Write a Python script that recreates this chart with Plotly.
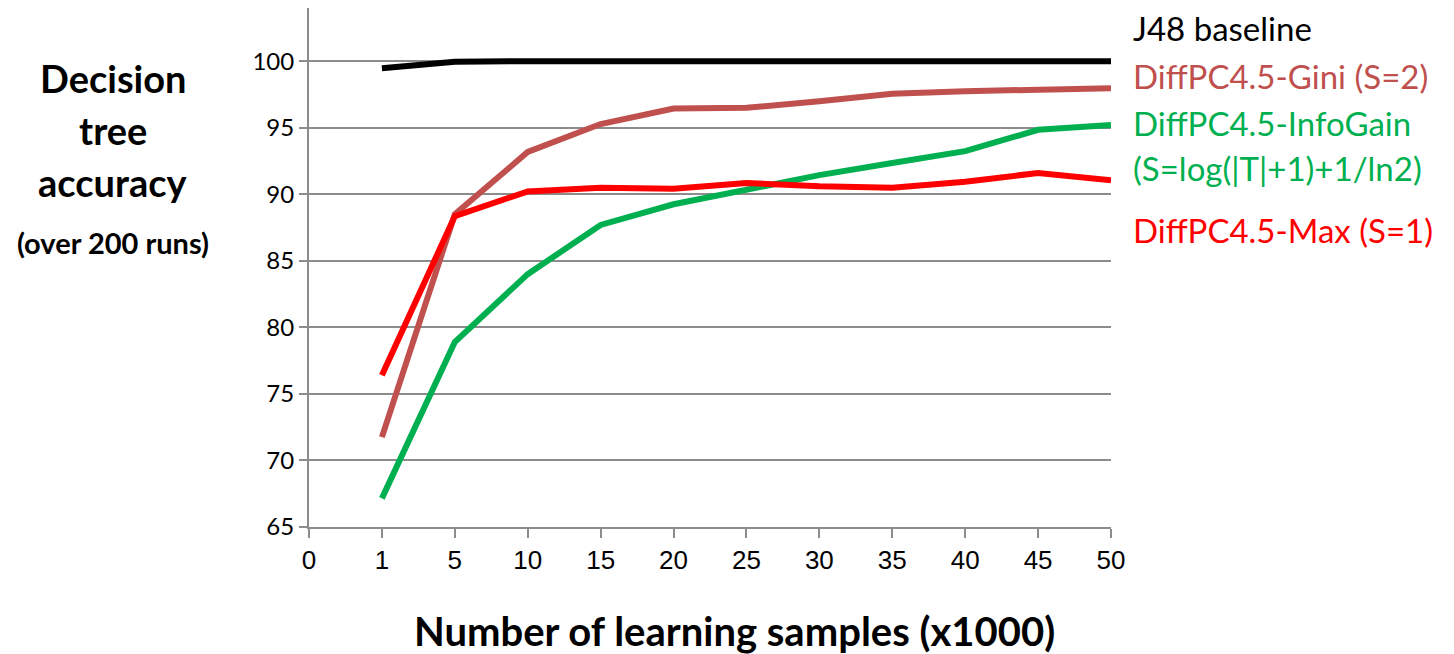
import plotly.graph_objects as go

categories = ["0", "1", "5", "10", "15", "20", "25", "30", "35", "40", "45", "50"]
sample_points = ["1", "5", "10", "15", "20", "25", "30", "35", "40", "45", "50"]

j48_baseline = [99.47, 99.96, 100.0, 100.0, 100.0, 100.0, 100.0, 100.0, 100.0, 100.0, 100.0]
gini = [71.75, 88.5, 93.18, 95.28, 96.45, 96.5, 97.0, 97.55, 97.75, 97.9, 97.97]
infogain = [67.15, 78.9, 84.0, 87.7, 89.25, 90.35, 91.44, 92.35, 93.24, 94.85, 95.2]
maxs = [76.4, 88.36, 90.22, 90.5, 90.42, 90.85, 90.6, 90.5, 90.95, 91.6, 91.06]

y_ticks = [65, 70, 75, 80, 85, 90, 95, 100]

W, H = 1454, 654
OFF = 8  # page body margin offset
L, R, T, B = 309, 1111, 8, 527


def px(x):
    return (x - L) / (R - L)


def py(y):
    return (B - y) / (B - T)


fig = go.Figure()
series = [
    ("J48 baseline", j48_baseline, "#000000"),
    ("DiffPC4.5-Gini (S=2)", gini, "#c0504d"),
    ("DiffPC4.5-InfoGain", infogain, "#00b050"),
    ("DiffPC4.5-Max (S=1)", maxs, "#ff0000"),
]
for name, vals, col in series:
    fig.add_trace(go.Scatter(x=sample_points, y=vals, mode="lines", name=name,
                             line=dict(color=col, width=6), showlegend=False))

fig.update_layout(
    width=W - OFF, height=H - OFF, autosize=False,
    margin=dict(l=L - OFF, r=W - R, t=T - OFF, b=H - B),
    plot_bgcolor="white", paper_bgcolor="white",
    xaxis=dict(type="category", categoryorder="array", categoryarray=categories,
               range=[0, 11], showgrid=False, showline=True, linecolor="#8c8c8c",
               linewidth=2, ticks="outside", ticklen=9, tickcolor="#8c8c8c", tickwidth=2,
               tickfont=dict(family="Liberation Sans, Arial", size=26, color="black")),
    yaxis=dict(range=[65, 104], tickvals=y_ticks, showgrid=True, gridcolor="#8c8c8c",
               gridwidth=2, showline=True, linecolor="#8c8c8c", linewidth=2,
               ticks="outside", ticklen=8, tickcolor="#8c8c8c", tickwidth=2,
               zeroline=False,
               tickfont=dict(family="Lato, Open Sans", size=24, color="black")),
)

label_font = "Lato, Open Sans"
labels = [
    ("J48 baseline", 28, "#000000"),
    ("DiffPC4.5-Gini (S=2)", 76, "#c0504d"),
    ("DiffPC4.5-InfoGain", 123, "#00b050"),
    ("(S=log(|T|+1)+1/ln2)", 168, "#00b050"),
    ("DiffPC4.5-Max (S=1)", 230, "#ff0000"),
]
for txt, yy, col in labels:
    fig.add_annotation(text=txt, xref="paper", yref="paper", x=px(1131), y=py(yy),
                       xanchor="left", yanchor="middle", showarrow=False,
                       font=dict(family=label_font, size=33, color=col))

ytitle = [("Decision", 78, 38), ("tree", 130, 38), ("accuracy", 182, 38), ("(over 200 runs)", 242, 29)]
for txt, yy, sz in ytitle:
    fig.add_annotation(text="<b>" + txt + "</b>", xref="paper", yref="paper", x=px(113), y=py(yy),
                       xanchor="center", yanchor="middle", showarrow=False,
                       font=dict(family=label_font, size=sz, color="black"))

fig.add_annotation(text="<b>Number of learning samples (x1000)</b>", xref="paper", yref="paper",
                   x=px(734), y=py(631), xanchor="center", yanchor="middle", showarrow=False,
                   font=dict(family=label_font, size=40, color="black"))

fig.write_html("out.html")
